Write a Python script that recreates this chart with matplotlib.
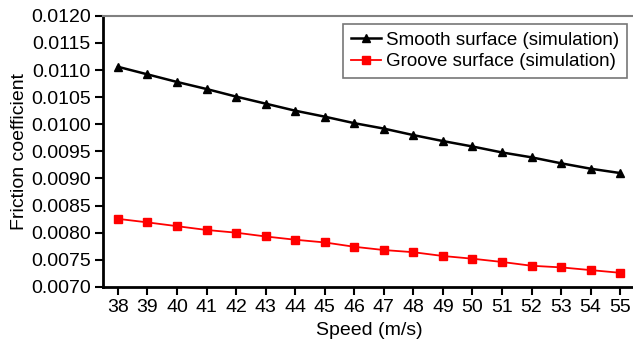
import numpy as np
import matplotlib.pyplot as plt

plt.rcParams['font.family'] = ['Liberation Sans', 'DejaVu Sans']

speed = [38, 39, 40, 41, 42, 43, 44, 45, 46, 47, 48, 49, 50, 51, 52, 53, 54, 55]
smooth = [0.01106, 0.01092, 0.01078, 0.01065, 0.01051, 0.01038, 0.01025, 0.01014, 0.01002,
          0.00992, 0.00980, 0.00969, 0.00959, 0.00948, 0.00939, 0.00928, 0.00918, 0.00910]
groove = [0.008255, 0.00819, 0.00812, 0.00805, 0.00800, 0.00793, 0.00787, 0.00782, 0.00774,
          0.00768, 0.00764, 0.00757, 0.00752, 0.00746, 0.00739, 0.00736, 0.00731, 0.00726]
yticks = np.arange(0.0070, 0.01201, 0.0005)

fig = plt.figure(figsize=(6.33, 3.44), dpi=100)
ax = fig.add_axes([0.163, 0.166, 0.84, 0.788])

ax.plot(speed, smooth, color='black', marker='^', markersize=6, linewidth=1.8,
        label='Smooth surface (simulation)')
ax.plot(speed, groove, color='#ff0000', marker='s', markersize=6, linewidth=1.3,
        label='Groove surface (simulation)')

ax.set_xlim(37.5, 55.5)
ax.set_ylim(0.0070, 0.0120)
ax.set_xticks(speed)
ax.set_yticks(yticks)
ax.set_yticklabels(['%.4f' % v for v in yticks])
ax.tick_params(labelsize=14, direction='out', length=6, width=1.5, pad=3)

ax.spines['right'].set_visible(False)
ax.spines['top'].set_color('#808080')
ax.spines['top'].set_linewidth(1.5)
ax.spines['left'].set_linewidth(2)
ax.spines['bottom'].set_linewidth(2)

ax.set_xlabel('Speed (m/s)', fontsize=14, labelpad=4)
ax.set_ylabel('Friction coefficient', fontsize=14, labelpad=2)

leg = ax.legend(loc='upper right', bbox_to_anchor=(627 / 633, 1 - 24 / 344),
                bbox_transform=fig.transFigure, fontsize=13.5,
                fancybox=False, edgecolor='#555555', handlelength=1.6,
                handletextpad=0.3, borderpad=0.4, labelspacing=0.25, borderaxespad=0)
leg.get_frame().set_linewidth(1.2)

fig.savefig('out.png', dpi=100)
